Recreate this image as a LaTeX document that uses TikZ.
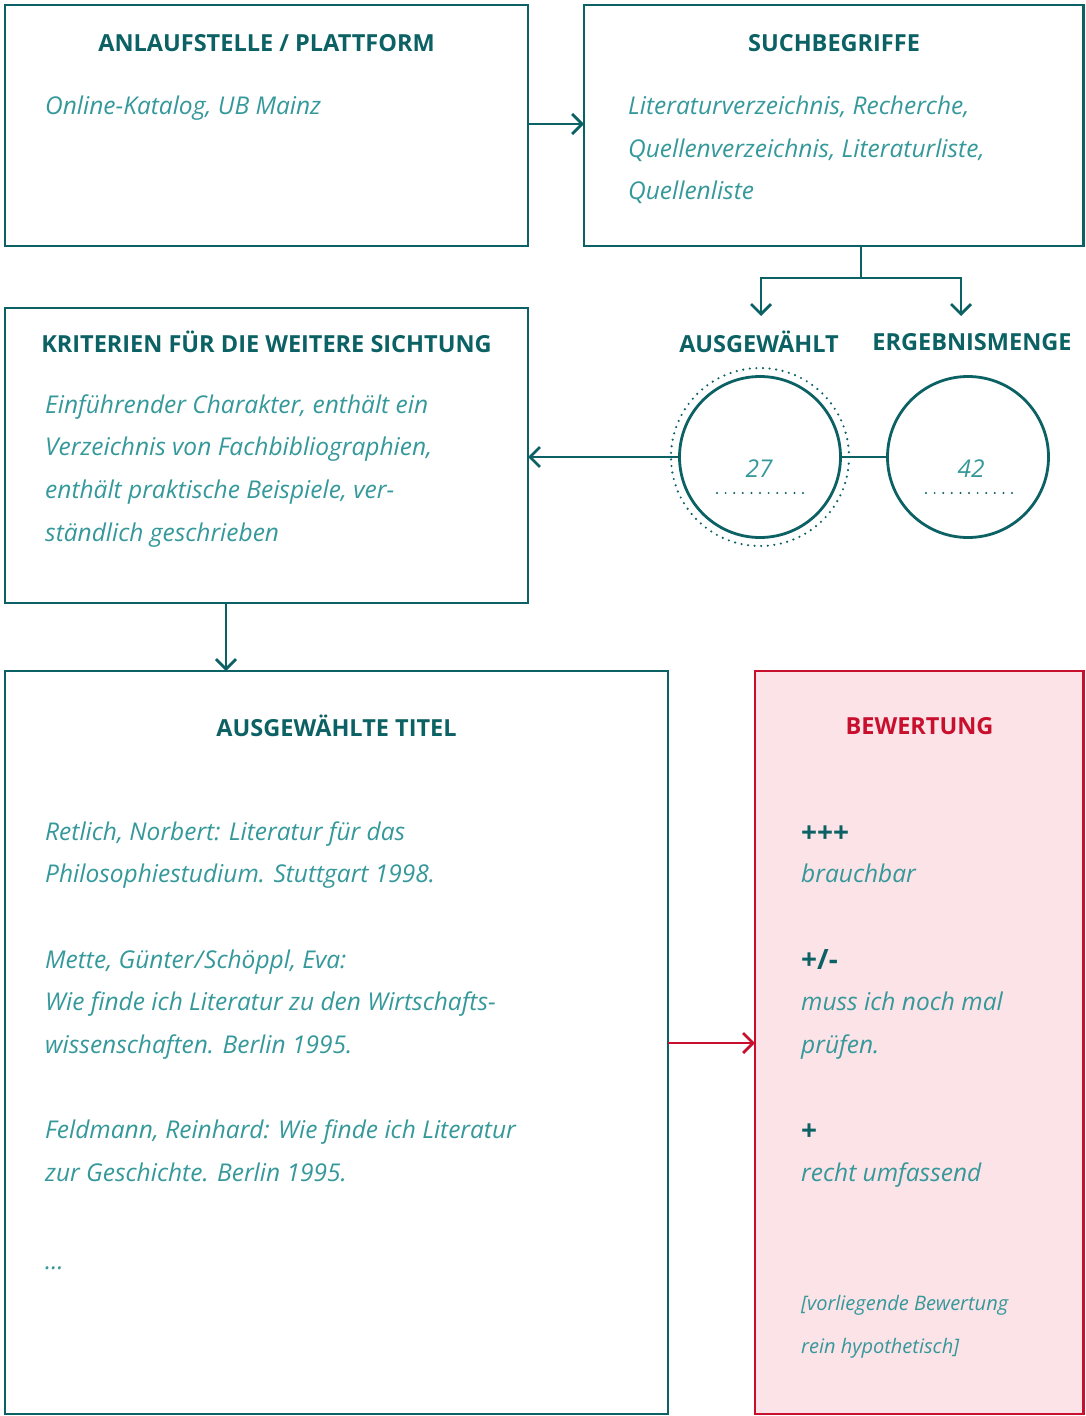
\documentclass[tikz,border=0pt]{standalone}
\usepackage{fontspec}
\setmainfont{Open Sans}
\usetikzlibrary{arrows.meta}
\definecolor{tealdark}{HTML}{0B6163}
\definecolor{teallight}{HTML}{35989A}
\definecolor{redline}{HTML}{C8102E}
\definecolor{pinkfill}{HTML}{FCE3E7}
\tikzset{
  box/.style={draw=tealdark, line width=2.8pt},
  redbox/.style={draw=redline, fill=pinkfill, line width=2.8pt},
  head/.style={font=\fontsize{23.5}{28}\selectfont\bfseries, text=tealdark, inner sep=0pt, anchor=center},
  plus/.style={font=\fontsize{28}{32}\selectfont\bfseries, text=tealdark, inner sep=0pt, anchor=base west},
  body/.style={font=\fontsize{24.5}{29}\selectfont\itshape, text=teallight, inner sep=0pt, anchor=base west},
  small/.style={font=\fontsize{20}{24}\selectfont\itshape, text=teallight, inner sep=0pt, anchor=base west},
  conn/.style={draw=tealdark, line width=2.8pt, -{Straight Barb[length=10pt,width=20pt]}},
  plainconn/.style={draw=tealdark, line width=2.8pt},
  ring/.style={draw=tealdark, line width=2.8pt, circle, minimum size=161pt, inner sep=0pt},
  dotring/.style={draw=tealdark, line width=2.4pt, dash pattern=on 0pt off 6.6pt, line cap=round},
  dotline/.style={draw=tealdark, line width=2.2pt, dash pattern=on 0pt off 8.6pt, line cap=round},
  x=1pt, y=-1pt
}
\begin{document}
\begin{tikzpicture}
\useasboundingbox (0,0) rectangle (1085,1416);
% boxes
\draw[box] (5,5) rectangle (528,246);
\coordinate (b1e) at (528,124);
\draw[box] (584,5) rectangle (1083.5,246);
\coordinate (b2w) at (584,124);
\coordinate (b2s) at (861,246);
\draw[box] (5,308) rectangle (528,603);
\coordinate (b3e) at (528,457);
\coordinate (b3s) at (226,603);
\draw[box] (5,671) rectangle (668,1414);
\coordinate (b4n) at (226,671);
\coordinate (b4e) at (668,1043);
\draw[redbox] (755,671) rectangle (1083.5,1414);
\coordinate (b5w) at (755,1043);

% box 1
\node[head] (h1) at (266.5,43) {ANLAUFSTELLE / PLATTFORM};
\node[body] (t1) at (45,114) {Online-Katalog, UB Mainz};
% box 2
\node[head] (h2) at (834,43) {SUCHBEGRIFFE};
\node[body] (t2a) at (628,114) {Literaturverzeichnis, Recherche,};
\node[body] (t2b) at (628,157) {Quellenverzeichnis, Literaturliste,};
\node[body] (t2c) at (628,199) {Quellenliste};
% box 3
\node[head] (h3) at (266.5,342) {KRITERIEN FÜR DIE WEITERE SICHTUNG};
\node[body] (t3a) at (45,413) {Einführender Charakter, enthält ein};
\node[body] (t3b) at (45,455) {Verzeichnis von Fachbibliographien,};
\node[body] (t3c) at (45,498) {enthält praktische Beispiele, ver-};
\node[body] (t3d) at (45,541) {ständlich geschrieben};
% box 4
\node[head] (h4) at (336.5,726) {AUSGEWÄHLTE TITEL};
\node[body] (t4a) at (45,840) {Retlich, Norbert: Literatur für das};
\node[body] (t4b) at (45,882) {Philosophiestudium. Stuttgart 1998.};
\node[body] (t4c) at (45,968) {Mette, Günter\kern1pt/\kern1pt Schöppl, Eva:};
\node[body] (t4d) at (45,1010) {Wie finde ich Literatur zu den Wirtschafts-};
\node[body] (t4e) at (45,1053) {wissenschaften. Berlin 1995.};
\node[body] (t4f) at (45,1138) {Feldmann, Reinhard: Wie finde ich Literatur};
\node[body] (t4g) at (45,1181) {zur Geschichte. Berlin 1995.};
\node[body] (t4h) at (45,1269) {…};
% box 5
\node[head, text=redline] (h5) at (919.5,726) {BEWERTUNG};
\node[plus] (p1) at (801,842) {+++};
\node[body] (t5a) at (801,882) {brauchbar};
\node[plus] (p2) at (801,969) {+/-};
\node[body] (t5b) at (801,1010) {muss ich noch mal};
\node[body] (t5c) at (801,1053) {prüfen.};
\node[plus] (p3) at (801,1140) {+};
\node[body] (t5d) at (801,1181) {recht umfassend};
\node[small] (t5e) at (801,1310) {[vorliegende Bewertung};
\node[small] (t5f) at (801,1353) {rein hypothetisch]};

% labels above circles
\node[head] (l1) at (759,342) {AUSGEWÄHLT};
\node[head] (l2) at (972,342) {ERGEBNISMENGE};

% circles
\node[ring] (c1) at (760,457) {};
\node[ring] (c2) at (968,457) {};
\draw[dotring] (c1.center) circle[radius=89];
\node[body, anchor=center] (n1) at (759,469) {27};
\node[body, anchor=center] (n2) at (971,469) {42};
\coordinate (d1a) at (717,493);
\coordinate (d1b) at (804,493);
\coordinate (d2a) at (926,493);
\coordinate (d2b) at (1013,493);
\draw[dotline] (d1a) -- (d1b);
\draw[dotline] (d2a) -- (d2b);

% connectors
\draw[conn] (b1e) -- (b2w);
\coordinate (split) at (861,278);
\coordinate (sl) at (761,278);
\coordinate (sr) at (961,278);
\coordinate (al) at (761,316);
\coordinate (ar) at (961,316);
\draw[plainconn] (b2s) -- (split);
\draw[conn] (split) -- (sl) -- (al);
\draw[conn] (split) -- (sr) -- (ar);
\draw[plainconn] (c1.east) -- (c2.west);
\draw[conn] (c1.west) -- (b3e);
\draw[conn] (b3s) -- (b4n);
\draw[draw=redline, line width=2.8pt, -{Straight Barb[length=10pt,width=20pt]}] (b4e) -- (b5w);
\end{tikzpicture}
\end{document}
